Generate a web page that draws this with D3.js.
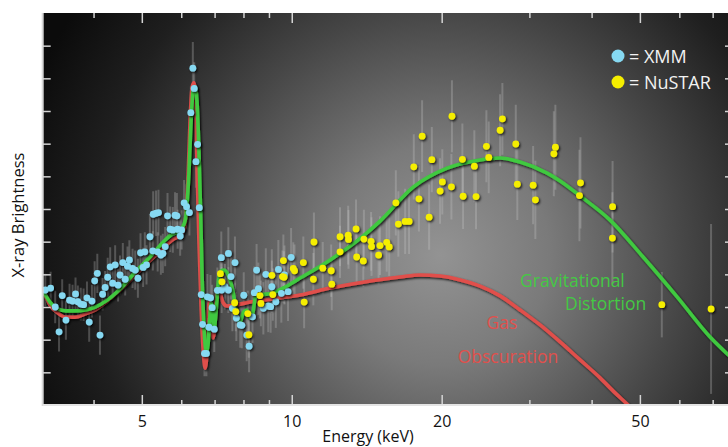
<!DOCTYPE html>
<html><head><meta charset="utf-8">
<script src="https://cdn.jsdelivr.net/npm/d3@7"></script>
<style>
body{margin:0;background:#fff}
svg{display:block}
text{font-family:"Open Sans","Noto Sans",sans-serif}
</style>
</head><body>
<svg id="chart" width="728" height="447"></svg>
<script>
// ---- data (energy keV, brightness in arbitrary units, error half-length) ----
const xmmPoints = [
[3.20,3.52,0.5],[3.28,3.58,0.5],[3.35,3.00,0.5],[3.41,2.24,0.6],[3.46,3.35,0.5],[3.52,2.60,0.6],[3.58,3.21,0.5],[3.63,3.18,0.5],[3.68,3.40,0.5],[3.72,3.16,0.5],
[3.77,3.09,0.5],[3.82,3.07,0.5],[3.88,3.28,0.5],[3.92,2.54,0.6],[3.97,3.18,0.5],[4.02,3.80,0.6],[4.07,4.03,0.6],[4.12,2.14,0.6],[4.17,3.39,0.5],[4.22,3.60,0.5],
[4.27,3.91,0.6],[4.32,4.23,0.6],[4.37,3.73,0.5],[4.42,4.29,0.6],[4.48,3.67,0.5],[4.52,3.98,0.6],[4.58,4.36,0.6],[4.63,3.85,0.5],[4.68,4.25,0.6],[4.72,4.44,0.6],
[4.79,4.18,0.6],[4.85,4.13,0.6],[4.91,3.88,0.6],[4.97,4.66,0.6],[5.03,4.21,0.6],[5.07,4.69,0.6],[5.11,4.29,0.6],[5.19,5.15,0.7],[5.26,4.72,0.6],[5.27,5.84,0.7],
[5.34,5.87,0.7],[5.40,5.89,0.7],[5.38,4.69,0.6],[5.46,4.59,0.6],[5.51,4.64,0.6],[5.57,4.85,0.6],[5.63,5.79,0.7],[5.70,5.38,0.7],[5.77,5.36,0.7],[5.83,5.81,0.7],
[5.88,5.79,0.7],[5.90,5.38,0.6],[5.97,5.17,0.6],[6.01,5.36,0.6],[6.08,6.19,0.7],[6.15,6.07,0.7],[6.23,5.89,0.7],[6.27,8.95,0.8],[6.33,10.31,0.8],[6.37,9.69,0.8],
[6.42,7.45,0.8],[6.47,7.98,0.8],[6.52,6.04,0.7],[6.58,3.38,0.7],[6.62,2.47,0.7],[6.68,1.58,0.7],[6.74,1.58,0.7],[6.77,3.31,0.7],[6.87,3.28,0.7],[6.92,2.98,0.7],
[6.82,2.38,0.7],[6.99,2.32,0.7],[7.09,3.51,0.7],[7.22,4.51,0.8],[7.23,3.52,0.7],[7.34,3.62,0.7],[7.46,4.64,0.8],[7.46,3.52,0.7],[7.55,3.93,0.7],[7.60,2.96,0.7],
[7.69,4.36,0.8],[7.74,2.66,0.7],[7.88,2.45,0.7],[7.94,2.44,0.7],[8.01,3.36,0.7],[8.12,2.14,0.8],[8.21,1.80,0.8],[8.34,2.70,0.8],[8.41,3.44,0.8],[8.50,4.13,0.8],
[8.57,3.56,0.8],[8.77,2.96,0.8],[8.87,4.00,0.8],[8.97,3.03,0.8],[9.07,3.01,0.8],[9.12,3.62,0.8],[9.29,3.16,0.8],[9.40,4.15,0.9],[9.53,3.42,0.9],[9.67,3.98,0.9],
[9.83,3.47,0.9],[9.97,4.52,0.9]
];
const nustarPoints = [
[7.19,4.02,0.6],[7.24,3.77,0.6],[7.68,3.13,0.6],[7.72,2.86,0.6],[8.16,2.80,0.7],[8.20,2.15,0.7],[8.63,3.35,0.7],[8.67,3.11,0.7],[9.12,3.97,0.8],[9.16,3.38,0.8],
[9.58,3.93,0.8],[9.62,4.42,0.8],[9.65,3.91,0.8],[10.07,4.18,0.8],[10.13,4.11,0.8],[10.55,4.36,0.8],[10.59,3.15,0.8],[11.05,3.85,0.8],[11.08,4.99,0.9],[11.54,4.19,0.8],
[12.0,4.11,0.8],[12.03,3.70,0.8],[12.50,5.15,0.9],[12.50,4.69,0.8],[12.98,5.20,0.9],[13.0,5.07,0.9],[13.46,5.39,0.9],[13.50,4.53,0.8],[13.92,4.41,0.8],[13.96,5.08,0.9],
[14.43,5.01,0.9],[14.46,4.85,0.9],[14.94,4.59,0.9],[15.04,4.88,0.9],[15.51,4.98,0.9],[15.69,4.84,0.9],[16.18,6.19,1.0],[16.37,5.54,1.0],[16.89,5.62,1.0],[17.20,5.62,1.0],
[17.58,7.29,1.0],[18.0,6.31,1.0],[18.27,8.23,1.1],[18.87,5.75,1.0],[19.11,7.51,1.0],[19.85,6.55,1.0],[20.06,6.83,1.0],[20.92,6.68,1.0],[20.97,8.84,1.1],[22.01,7.52,1.1],
[22.08,6.39,1.0],[23.26,7.31,1.1],[23.44,6.38,1.0],[24.59,7.92,1.1],[24.86,7.58,1.1],[26.20,8.41,1.1],[26.48,8.76,1.1],[28.17,7.99,1.2],[28.37,6.76,1.1],[30.52,6.73,1.2],
[30.84,6.28,1.2],[33.59,7.69,1.3],[33.83,7.89,1.3],[37.81,6.41,1.4],[37.99,6.80,1.4],[44.03,5.11,1.4],[44.07,6.07,1.4],[55.33,3.07,1.0],[69.48,2.94,2.6]
];
const gravModel = [
[3.17,3.49],[3.27,3.15],[3.39,2.94],[3.52,2.88],[3.67,2.88],[3.85,2.91],[4.03,3.00],[4.26,3.21],[4.52,3.55],[4.85,4.07],
[5.19,4.53],[5.57,5.05],[5.75,5.23],[5.91,5.30],[6.02,5.42],[6.11,5.66],[6.16,6.12],[6.22,7.19],[6.28,8.72],[6.34,9.64],
[6.40,9.73],[6.45,9.34],[6.51,7.81],[6.56,5.97],[6.61,3.83],[6.67,2.30],[6.74,1.62],[6.79,1.84],[6.84,2.60],[6.89,3.12],
[6.93,2.85],[6.98,2.30],[7.03,2.66],[7.08,3.28],[7.13,3.83],[7.21,4.10],[7.31,4.13],[7.45,3.98],[7.57,3.67],[7.66,3.28],
[7.75,2.72],[7.88,2.56],[8.00,2.85],[8.12,2.91],[8.25,2.66],[8.36,2.85],[8.46,3.31],[8.70,3.37],[9.12,3.42],[9.69,3.61],
[10.25,3.83],[11.94,4.44],[13.90,5.17],[15.04,5.63],[17.53,6.67],[20.51,7.25],[23.88,7.50],[26.20,7.56],[28.73,7.44],[32.56,7.10],
[34.58,6.86],[37.93,6.40],[43.57,5.66],[50.75,4.53],[59.39,3.31],[69.17,2.08],[76.9,1.40]
];
const gasModel = [
[3.17,3.52],[3.27,3.06],[3.39,2.82],[3.52,2.69],[3.67,2.69],[3.85,2.79],[4.03,2.91],[4.26,3.18],[4.52,3.52],[4.96,4.13],
[5.31,4.56],[5.79,5.08],[5.97,5.20],[6.08,5.39],[6.13,5.79],[6.19,6.89],[6.25,8.72],[6.31,9.73],[6.36,9.86],[6.41,9.34],
[6.45,7.50],[6.51,5.05],[6.58,2.91],[6.64,1.68],[6.70,1.13],[6.76,1.68],[6.80,2.91],[6.85,3.21],[6.90,2.60],[6.95,2.05],
[7.00,2.30],[7.05,3.06],[7.10,3.52],[7.18,3.43],[7.27,3.15],[7.41,3.03],[7.69,3.06],[8.25,3.15],[9.48,3.28],[10.39,3.37],
[11.94,3.58],[13.90,3.76],[16.50,3.92],[18.10,3.98],[19.85,3.95],[21.78,3.83],[23.88,3.64],[26.20,3.34],[28.73,2.91],[31.52,2.45],
[34.58,1.93],[37.93,1.38],[41.60,0.83],[44.59,0.37],[47.34,0.00],[51.2,-0.52]
];
const xMajorTicks = [5, 10, 20, 50];
const xMinorTicks = [4, 6, 7, 8, 9, 30, 40, 60, 70];
const yTicks = [1,2,3,4,5,6,7,8,9,10,11];
const legendItems = [["= XMM", "#86d9f2"], ["= NuSTAR", "#f5ee00"]];

// ---- layout ----
const L = 42.7, T = 13, R = 733, B = 405;
const svg = d3.select("#chart");
const x = d3.scaleLog().domain([3.162, 76.9]).range([L, R]);
const y = d3.scaleLinear().domain([0, 12]).range([B, T]);

const defs = svg.append("defs");
const rg = defs.append("radialGradient").attr("id","bg").attr("gradientUnits","userSpaceOnUse")
  .attr("cx",440).attr("cy",255).attr("r",440);
[[0,"#939393"],[0.25,"#7a7a7a"],[0.55,"#474747"],[0.8,"#1f1f1f"],[1,"#0b0b0b"]]
  .forEach(([o,c])=>rg.append("stop").attr("offset",o).attr("stop-color",c));
const sh = defs.append("filter").attr("id","sh").attr("x","-20%").attr("y","-20%").attr("width","140%").attr("height","140%");
sh.append("feDropShadow").attr("dx",1.2).attr("dy",1.4).attr("stdDeviation",0.9)
  .attr("flood-color","#000").attr("flood-opacity",0.85);
defs.append("clipPath").attr("id","clip").append("rect")
  .attr("x",L).attr("y",T).attr("width",R-L).attr("height",B-T);

svg.append("rect").attr("x",L).attr("y",T).attr("width",R-L).attr("height",B-T).attr("fill","url(#bg)");

const plot = svg.append("g").attr("clip-path","url(#clip)");

// error bars
const allPts = xmmPoints.concat(nustarPoints);
plot.append("g").selectAll("line").data(allPts).join("line")
  .attr("x1",d=>x(d[0])).attr("x2",d=>x(d[0]))
  .attr("y1",d=>y(d[1]+d[2])).attr("y2",d=>y(d[1]-d[2]))
  .attr("stroke","rgba(205,205,205,0.28)").attr("stroke-width",2);

// model curves
const line = d3.line().x(d=>x(d[0])).y(d=>y(d[1])).curve(d3.curveMonotoneX);
plot.append("path").datum(gasModel).attr("d",line).attr("fill","none")
  .attr("stroke","#e0504c").attr("stroke-width",3.6).attr("filter","url(#sh)");
plot.append("path").datum(gravModel).attr("d",line).attr("fill","none")
  .attr("stroke","#3fc93f").attr("stroke-width",3.6).attr("filter","url(#sh)");

// points
plot.append("g").attr("filter","url(#sh)").selectAll("circle").data(xmmPoints).join("circle")
  .attr("cx",d=>x(d[0])).attr("cy",d=>y(d[1])).attr("r",3.4).attr("fill","#86d9f2");
plot.append("g").attr("filter","url(#sh)").selectAll("circle").data(nustarPoints).join("circle")
  .attr("cx",d=>x(d[0])).attr("cy",d=>y(d[1])).attr("r",3.4).attr("fill","#f5ee00");

// axes
const axCol = "#d4d4d4";
const ax = svg.append("g");
ax.append("g").attr("transform",`translate(0,${B})`)
  .call(d3.axisBottom(x).tickValues(xMajorTicks).tickSize(-10).tickFormat(d3.format("d")))
  .call(g=>{g.select(".domain").remove(); g.selectAll("line").attr("stroke",axCol).attr("stroke-width",1.5);
    g.selectAll("text").attr("fill","#111").attr("font-size",16).attr("dy","1.2em");});
ax.append("g").attr("transform",`translate(0,${B})`)
  .call(d3.axisBottom(x).tickValues(xMinorTicks).tickSize(-5).tickFormat(""))
  .call(g=>{g.select(".domain").remove(); g.selectAll("line").attr("stroke",axCol).attr("stroke-width",1.5);});
ax.append("g").attr("transform",`translate(0,${T})`)
  .call(d3.axisTop(x).tickValues(xMajorTicks).tickSize(-10).tickFormat(""))
  .call(g=>{g.select(".domain").remove(); g.selectAll("line").attr("stroke",axCol).attr("stroke-width",1.5);});
ax.append("g").attr("transform",`translate(0,${T})`)
  .call(d3.axisTop(x).tickValues(xMinorTicks).tickSize(-5).tickFormat(""))
  .call(g=>{g.select(".domain").remove(); g.selectAll("line").attr("stroke",axCol).attr("stroke-width",1.5);});
ax.append("g").attr("transform",`translate(${L},0)`)
  .call(d3.axisLeft(y).tickValues(yTicks).tickSize(-8).tickFormat(""))
  .call(g=>{g.select(".domain").remove(); g.selectAll("line").attr("stroke",axCol).attr("stroke-width",1.5);});
ax.append("g").attr("transform",`translate(${R},0)`)
  .call(d3.axisRight(y).tickValues(yTicks).tickSize(-8).tickFormat(""))
  .call(g=>{g.select(".domain").remove(); g.selectAll("line").attr("stroke",axCol).attr("stroke-width",1.5);});
// frame lines
ax.append("line").attr("x1",L).attr("x2",L).attr("y1",T).attr("y2",B+1).attr("stroke","#d8d8d8").attr("stroke-width",2);
ax.append("line").attr("x1",L).attr("x2",R).attr("y1",B).attr("y2",B).attr("stroke","#e4e4e4").attr("stroke-width",2);

// axis titles
svg.append("text").attr("x",368).attr("y",442).attr("text-anchor","middle")
  .attr("font-size",16).attr("fill","#111").text("Energy (keV)");
svg.append("text").attr("transform","translate(24,215) rotate(-90)").attr("text-anchor","middle")
  .attr("font-size",16.5).attr("fill","#111").text("X-ray Brightness");

// legend
const lg = svg.append("g");
legendItems.forEach(([label,col],i)=>{
  lg.append("circle").attr("cx",618).attr("cy",56+i*26).attr("r",6.5).attr("fill",col);
  lg.append("text").attr("x",629).attr("y",62.5+i*26).attr("font-size",18).attr("fill","#f2f2f2").text(label);
});

// model labels
svg.append("text").attr("x",520).attr("y",287).attr("font-size",17.5).attr("fill","#44c944").text("Gravitational");
svg.append("text").attr("x",565).attr("y",310).attr("font-size",17.5).attr("fill","#44c944").text("Distortion");
svg.append("text").attr("x",502).attr("y",329).attr("text-anchor","middle").attr("font-size",17.5).attr("fill","#e0504c").text("Gas");
svg.append("text").attr("x",508).attr("y",363).attr("text-anchor","middle").attr("font-size",17.5).attr("fill","#e0504c").text("Obscuration");
</script>
</body></html>
